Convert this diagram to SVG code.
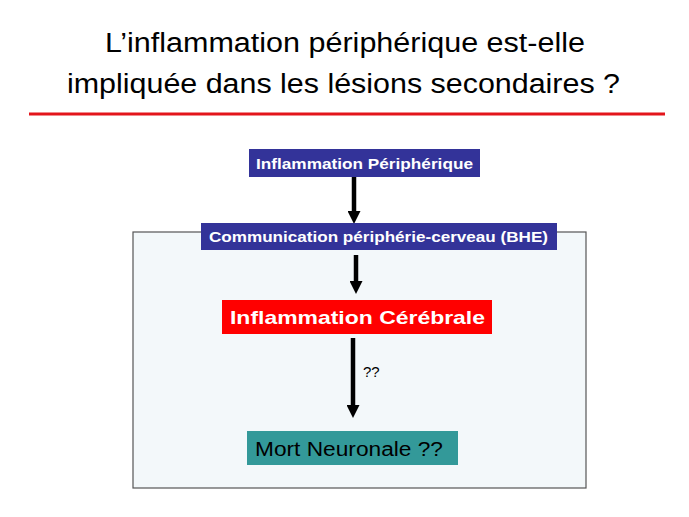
<svg xmlns="http://www.w3.org/2000/svg" width="689" height="517" viewBox="0 0 689 517">
<style>
.title{font-family:"Liberation Sans",Arial,sans-serif;font-size:27px;fill:#000}
.bt{font-family:"Liberation Sans",Arial,sans-serif;font-weight:bold;fill:#fff}
.lbl{font-family:"Liberation Sans",Arial,sans-serif;font-size:15px;fill:#000}
.shaft{stroke:#000;stroke-width:4.5;fill:none}
</style>
<defs>
<marker id="ah" markerWidth="13" markerHeight="13" refX="0" refY="6.5" orient="auto" markerUnits="userSpaceOnUse" viewBox="0 0 13 13">
<path d="M0,0 L13,6.5 L0,13 Z" fill="#000"/>
</marker>
</defs>
<rect width="689" height="517" fill="#fff"/>
<g id="title">
<text class="title" x="105" y="52" textLength="480" lengthAdjust="spacingAndGlyphs">L’inflammation périphérique est-elle</text>
<text class="title" x="67" y="93" textLength="553" lengthAdjust="spacingAndGlyphs">impliquée dans les lésions secondaires ?</text>
<line x1="29" y1="114" x2="665" y2="114" stroke="#e3151b" stroke-width="3"/>
</g>
<g id="container">
<rect x="133" y="232" width="453" height="256" fill="#f3f8fa" stroke="#555" stroke-width="1.2"/>
</g>
<g id="connectors">
<line class="shaft" x1="354" y1="177" x2="354" y2="211" marker-end="url(#ah)"/>
<line class="shaft" x1="356" y1="255" x2="356" y2="281" marker-end="url(#ah)"/>
<line class="shaft" x1="353" y1="338" x2="353" y2="405" marker-end="url(#ah)"/>
<text class="lbl" x="363" y="377">??</text>
</g>
<g id="node-peripherique">
<rect x="249" y="149" width="231" height="28" fill="#333399"/>
<text class="bt" x="256" y="169" font-size="14.5" textLength="217" lengthAdjust="spacingAndGlyphs">Inflammation Périphérique</text>
</g>
<g id="node-communication">
<rect x="201" y="223" width="356" height="27" fill="#333399"/>
<text class="bt" x="209" y="242" font-size="14.5" textLength="339" lengthAdjust="spacingAndGlyphs">Communication périphérie-cerveau (BHE)</text>
</g>
<g id="node-cerebrale">
<rect x="222" y="300" width="270" height="34" fill="#ff0000"/>
<text class="bt" x="230" y="324" font-size="19" textLength="255" lengthAdjust="spacingAndGlyphs">Inflammation Cérébrale</text>
</g>
<g id="node-mort">
<rect x="247" y="431" width="211" height="34" fill="#339999"/>
<text x="255" y="456" font-family="Liberation Sans, Arial, sans-serif" font-size="19.5" fill="#000" textLength="188" lengthAdjust="spacingAndGlyphs">Mort Neuronale ??</text>
</g>
</svg>
